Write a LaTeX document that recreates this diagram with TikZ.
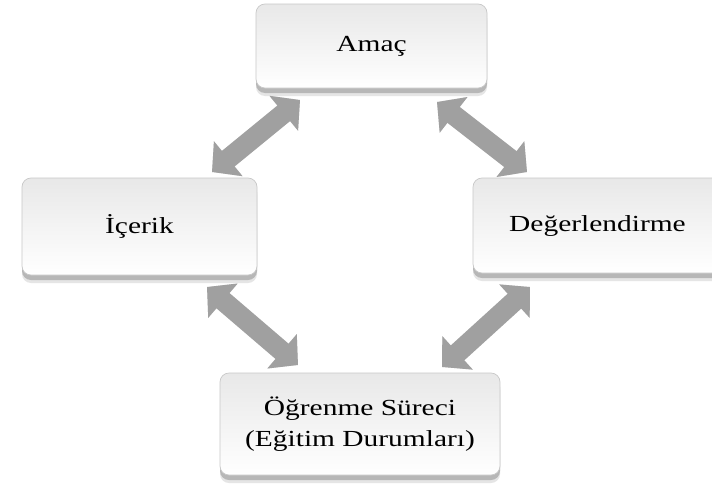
\documentclass[tikz,border=0pt]{standalone}
\usepackage{fontspec}
\usepackage{graphicx}
\setmainfont{Liberation Serif}
\usetikzlibrary{arrows.meta,shadows}
\definecolor{arrgray}{RGB}{160,160,160}
\definecolor{boxedge}{RGB}{200,200,200}
\newcommand{\wide}[1]{\scalebox{1.28}[1]{#1}}
\tikzset{
  box/.style={rectangle, rounded corners=9pt, draw=boxedge, line width=0.7pt,
    top color=black!9, bottom color=white,
    drop shadow={shadow xshift=0pt, shadow yshift=-8pt, fill=black!20, opacity=0.5},
    drop shadow={shadow xshift=0pt, shadow yshift=-5pt, fill=black!40, opacity=0.6},
    font=\fontsize{23}{31}\selectfont, align=center, inner sep=0pt},
  arrowlink/.style={line width=20pt, draw=arrgray,
    {Triangle[length=21pt,width=44pt]}-{Triangle[length=21pt,width=44pt]}},
  arrowshade/.style={line width=20pt, draw=black!15,
    {Triangle[length=21pt,width=44pt]}-{Triangle[length=21pt,width=44pt]}}
}
\begin{document}
\begin{tikzpicture}[x=1pt,y=-1pt]
\useasboundingbox (0,0) rectangle (712,498);
\fill[white] (0,0) rectangle (712,498);

% connector end points
\coordinate (a1s) at (300,100); \coordinate (a1e) at (212,172);
\coordinate (a2s) at (437,102); \coordinate (a2e) at (527,172);
\coordinate (a3s) at (207,287); \coordinate (a3e) at (298,365);
\coordinate (a4s) at (530,287); \coordinate (a4e) at (442,367);

% arrow shadows
\begin{scope}[yshift=-4pt]
\draw[arrowshade] (a1s) -- (a1e);
\draw[arrowshade] (a2s) -- (a2e);
\draw[arrowshade] (a3s) -- (a3e);
\draw[arrowshade] (a4s) -- (a4e);
\end{scope}
% arrows
\draw[arrowlink] (a1s) -- (a1e);
\draw[arrowlink] (a2s) -- (a2e);
\draw[arrowlink] (a3s) -- (a3e);
\draw[arrowlink] (a4s) -- (a4e);

% boxes
\node[box, minimum width=231pt, minimum height=84pt] (amac) at (371.5,46) {\wide{Amaç}};
\node[box, minimum width=235pt, minimum height=97pt] (icerik) at (139.5,226.5) {\wide{İçerik}};
\node[box, minimum width=249pt, minimum height=95pt] (deger) at (597.5,225.5) {\wide{Değerlendirme}};
\node[box, minimum width=280pt, minimum height=102pt] (surec) at (360,424) {\wide{Öğrenme Süreci}\\\wide{(Eğitim Durumları)}};
\end{tikzpicture}
\end{document}
